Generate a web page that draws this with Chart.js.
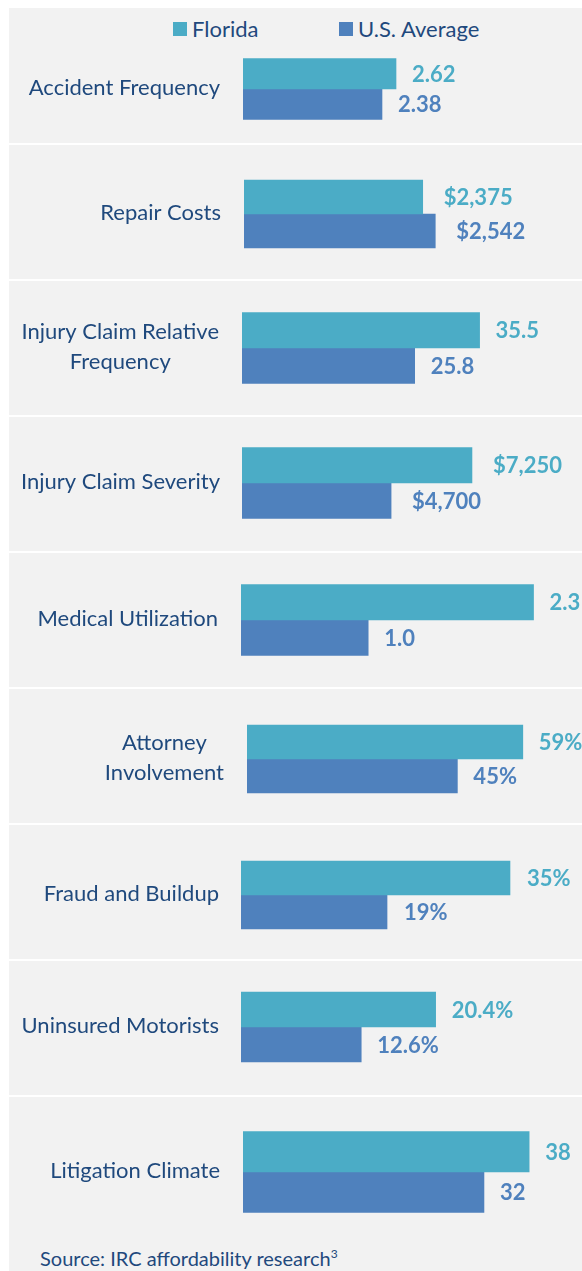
<!DOCTYPE html>
<html>
<head>
<meta charset="utf-8">
<script src="https://cdn.jsdelivr.net/npm/chart.js@4/dist/chart.umd.min.js"></script>
<style>
  html, body { margin: 0; padding: 0; background: #ffffff; }
  #wrap { position: relative; width: 582px; height: 1271px; overflow: hidden; font-family: Lato, "Open Sans", sans-serif; color: #1F497D; }
  #bg { position: absolute; left: 9px; top: 8px; right: 0; bottom: 0; background: #F2F2F2; }
  .sep { position: absolute; left: 9px; right: 0; height: 2px; background: #ffffff; }
  canvas { position: absolute; left: 0; }
  #legend { position: absolute; top: 13px; left: 0; width: 582px; height: 32px; font-size: 22px; }
  .lg { position: absolute; top: 0; line-height: 32px; white-space: nowrap; }
  .sw { position: absolute; top: 9px; width: 14px; height: 14px; }
  #source { position: absolute; left: 40px; top: 1245px; font-size: 20px; line-height: 26px; white-space: nowrap; }
  #source sup { font-size: 12px; vertical-align: 0; position: relative; top: -8px; }
</style>
</head>
<body>
<div id="wrap">
  <div id="bg"></div>
  <div id="legend">
    <div class="sw" style="left:173px;background:#4BACC6"></div>
    <div class="lg" style="left:192px">Florida</div>
    <div class="sw" style="left:339px;background:#4F81BD"></div>
    <div class="lg" style="left:358px">U.S. Average</div>
  </div>
  <div id="source">Source: IRC affordability research<sup>3</sup></div>
</div>
<script>
// ---- data ----
const categories = [
  ["Accident Frequency"],
  ["Repair Costs"],
  ["Injury Claim Relative", "Frequency"],
  ["Injury Claim Severity"],
  ["Medical Utilization"],
  ["Attorney", "Involvement"],
  ["Fraud and Buildup"],
  ["Uninsured Motorists"],
  ["Litigation Climate"]
];
const seriesNames = ["Florida", "U.S. Average"];
const florida   = [2.62, 2375, 35.5, 7250, 2.3, 59, 35, 20.4, 38];
const usAverage = [2.38, 2542, 25.8, 4700, 1.0, 45, 19, 12.6, 32];
const floridaLabels   = ["2.62", "$2,375", "35.5", "$7,250", "2.3", "59%", "35%", "20.4%", "38"];
const usAverageLabels = ["2.38", "$2,542", "25.8", "$4,700", "1.0", "45%", "19%", "12.6%", "32"];

// ---- layout (per panel) ----
const axisMax      = [5.805, 4492, 50.8, 10719, 2.681, 71.66, 44.37, 35.74, 45.02];
const barStart     = [243, 244, 242, 242, 241, 247, 241, 241, 243];
const centerY      = [89, 214, 348, 483, 620, 759, 895, 1027, 1172];
const barThick     = [30.5, 34, 35.5, 35.5, 35.5, 34, 34, 35, 40.5];
const labelRight   = [220, 221, 219, 220, 218, 224, 219, 219, 220];
const valueGap     = [16, 21, 16, 21, 16, 16, 17, 16, 16];
const separatorsY  = [143, 279, 415, 551, 687, 823, 959, 1095];

const colFL = "#4BACC6", colUS = "#4F81BD", textCol = "#1F497D";
const FONT = "Lato, 'Open Sans', sans-serif";
const wrap = document.getElementById("wrap");

separatorsY.forEach(y => {
  const d = document.createElement("div");
  d.className = "sep"; d.style.top = y + "px";
  wrap.appendChild(d);
});

const labelPlugin = {
  id: "panelLabels",
  afterDatasetsDraw(chart, args, opts) {
    const ctx = chart.ctx;
    const yScale = chart.scales.y;
    const cy = yScale.getPixelForValue(0);
    // category label
    ctx.save();
    ctx.fillStyle = textCol;
    ctx.font = "22px " + FONT;
    ctx.textBaseline = "middle";
    ctx.textAlign = "center";
    const lines = opts.category;
    let maxW = 0;
    lines.forEach(l => { maxW = Math.max(maxW, ctx.measureText(l).width); });
    const cx = opts.right - maxW / 2;
    const lh = 30;
    lines.forEach((l, k) => {
      ctx.fillText(l, cx, cy - 1 + (k - (lines.length - 1) / 2) * lh);
    });
    // value labels
    ctx.font = "bold 22px " + FONT;
    ctx.textAlign = "left";
    chart.data.datasets.forEach((ds, di) => {
      const meta = chart.getDatasetMeta(di);
      meta.data.forEach((bar, bi) => {
        ctx.fillStyle = ds.backgroundColor;
        ctx.fillText(ds.valueLabels[bi], bar.x + opts.gap, bar.y + 1);
      });
    });
    ctx.restore();
  }
};

const H = 124;
for (let i = 0; i < categories.length; i++) {
  const cv = document.createElement("canvas");
  cv.width = 582; cv.height = H;
  cv.style.top = (centerY[i] - H / 2) + "px";
  cv.style.width = "582px"; cv.style.height = H + "px";
  wrap.appendChild(cv);
  new Chart(cv, {
    type: "bar",
    data: {
      labels: [categories[i].join(" ")],
      datasets: [
        { label: seriesNames[0], data: [florida[i]], backgroundColor: colFL, valueLabels: [floridaLabels[i]], barThickness: barThick[i] },
        { label: seriesNames[1], data: [usAverage[i]], backgroundColor: colUS, valueLabels: [usAverageLabels[i]], barThickness: barThick[i] }
      ]
    },
    options: {
      indexAxis: "y",
      responsive: false,
      devicePixelRatio: 1,
      animation: false,
      layout: { padding: { left: barStart[i], right: 0, top: 0, bottom: 0 } },
      scales: {
        x: { display: false, min: 0, max: axisMax[i] },
        y: { display: false }
      },
      plugins: {
        legend: { display: false },
        tooltip: { enabled: false },
        panelLabels: { category: categories[i], right: labelRight[i], gap: valueGap[i] }
      }
    },
    plugins: [labelPlugin]
  });
}
</script>
</body>
</html>
